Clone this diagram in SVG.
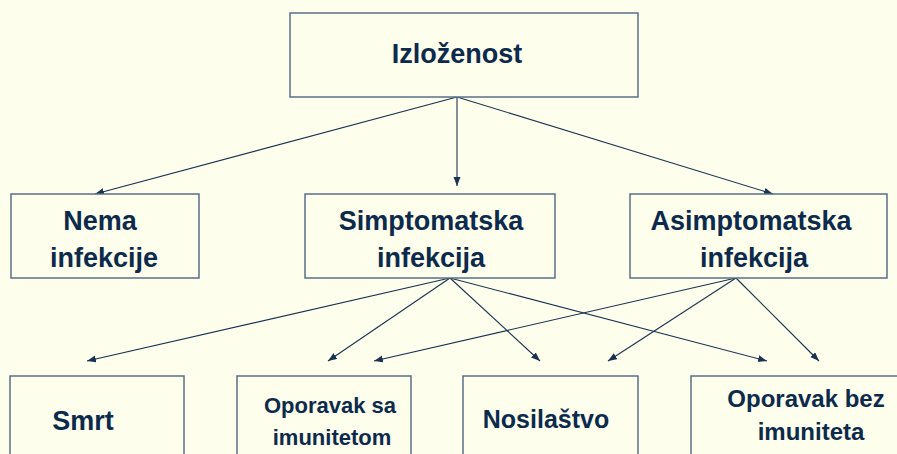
<svg xmlns="http://www.w3.org/2000/svg" width="897" height="454" viewBox="0 0 897 454">
<style>
.box{fill:#FEFEEC;stroke:#5a6f86;stroke-width:1.5}
.t{font-family:"Liberation Sans",Arial,sans-serif;font-weight:bold;fill:#0c2a4c;text-anchor:middle}
.c{stroke:#1a3352;stroke-width:1.1;fill:none;marker-end:url(#ah)}
</style>
<defs>
<marker id="ah" markerUnits="userSpaceOnUse" markerWidth="10" markerHeight="8" refX="9" refY="3.5" orient="auto">
<path d="M0,0 L9,3.5 L0,7 z" fill="#1a3352"/>
</marker>
</defs>
<rect x="0" y="0" width="897" height="454" fill="#FEFEEC"/>
<g id="connectors">
<line class="c" x1="457" y1="97" x2="95" y2="194"/>
<line class="c" x1="457" y1="97" x2="457" y2="186"/>
<line class="c" x1="457" y1="97" x2="773" y2="194"/>
<line class="c" x1="450" y1="278" x2="87" y2="361"/>
<line class="c" x1="450" y1="278" x2="328" y2="361"/>
<line class="c" x1="450" y1="278" x2="540" y2="361"/>
<line class="c" x1="450" y1="278" x2="767" y2="361"/>
<line class="c" x1="736" y1="278" x2="374" y2="361"/>
<line class="c" x1="736" y1="278" x2="608" y2="361"/>
<line class="c" x1="736" y1="278" x2="819" y2="361"/>
</g>
<g id="izlozenost">
<rect class="box" x="290" y="13" width="348" height="84"/>
<text class="t" x="457" y="63" font-size="27">Izloženost</text>
</g>
<g id="nema">
<rect class="box" x="11" y="194" width="188" height="84"/>
<text class="t" x="100" y="230" font-size="27">Nema</text>
<text class="t" x="104" y="267" font-size="27">infekcije</text>
</g>
<g id="simptomatska">
<rect class="box" x="305" y="194" width="250" height="84"/>
<text class="t" x="431" y="230" font-size="27">Simptomatska</text>
<text class="t" x="431" y="267" font-size="27">infekcija</text>
</g>
<g id="asimptomatska">
<rect class="box" x="630" y="194" width="257" height="84"/>
<text class="t" x="751" y="230" font-size="27">Asimptomatska</text>
<text class="t" x="754" y="267" font-size="27">infekcija</text>
</g>
<g id="smrt">
<rect class="box" x="10" y="376" width="174" height="90"/>
<text class="t" x="83" y="430" font-size="27">Smrt</text>
</g>
<g id="oporavak-sa">
<rect class="box" x="237" y="376" width="174" height="90"/>
<text class="t" x="330" y="413" font-size="22">Oporavak sa</text>
<text class="t" x="332" y="445" font-size="22">imunitetom</text>
</g>
<g id="nosilastvo">
<rect class="box" x="463" y="376" width="175" height="90"/>
<text class="t" x="546" y="428" font-size="25">Nosilaštvo</text>
</g>
<g id="oporavak-bez">
<rect class="box" x="691" y="376" width="220" height="90"/>
<text class="t" x="806" y="407" font-size="24">Oporavak bez</text>
<text class="t" x="811" y="440" font-size="24">imuniteta</text>
</g>
</svg>
